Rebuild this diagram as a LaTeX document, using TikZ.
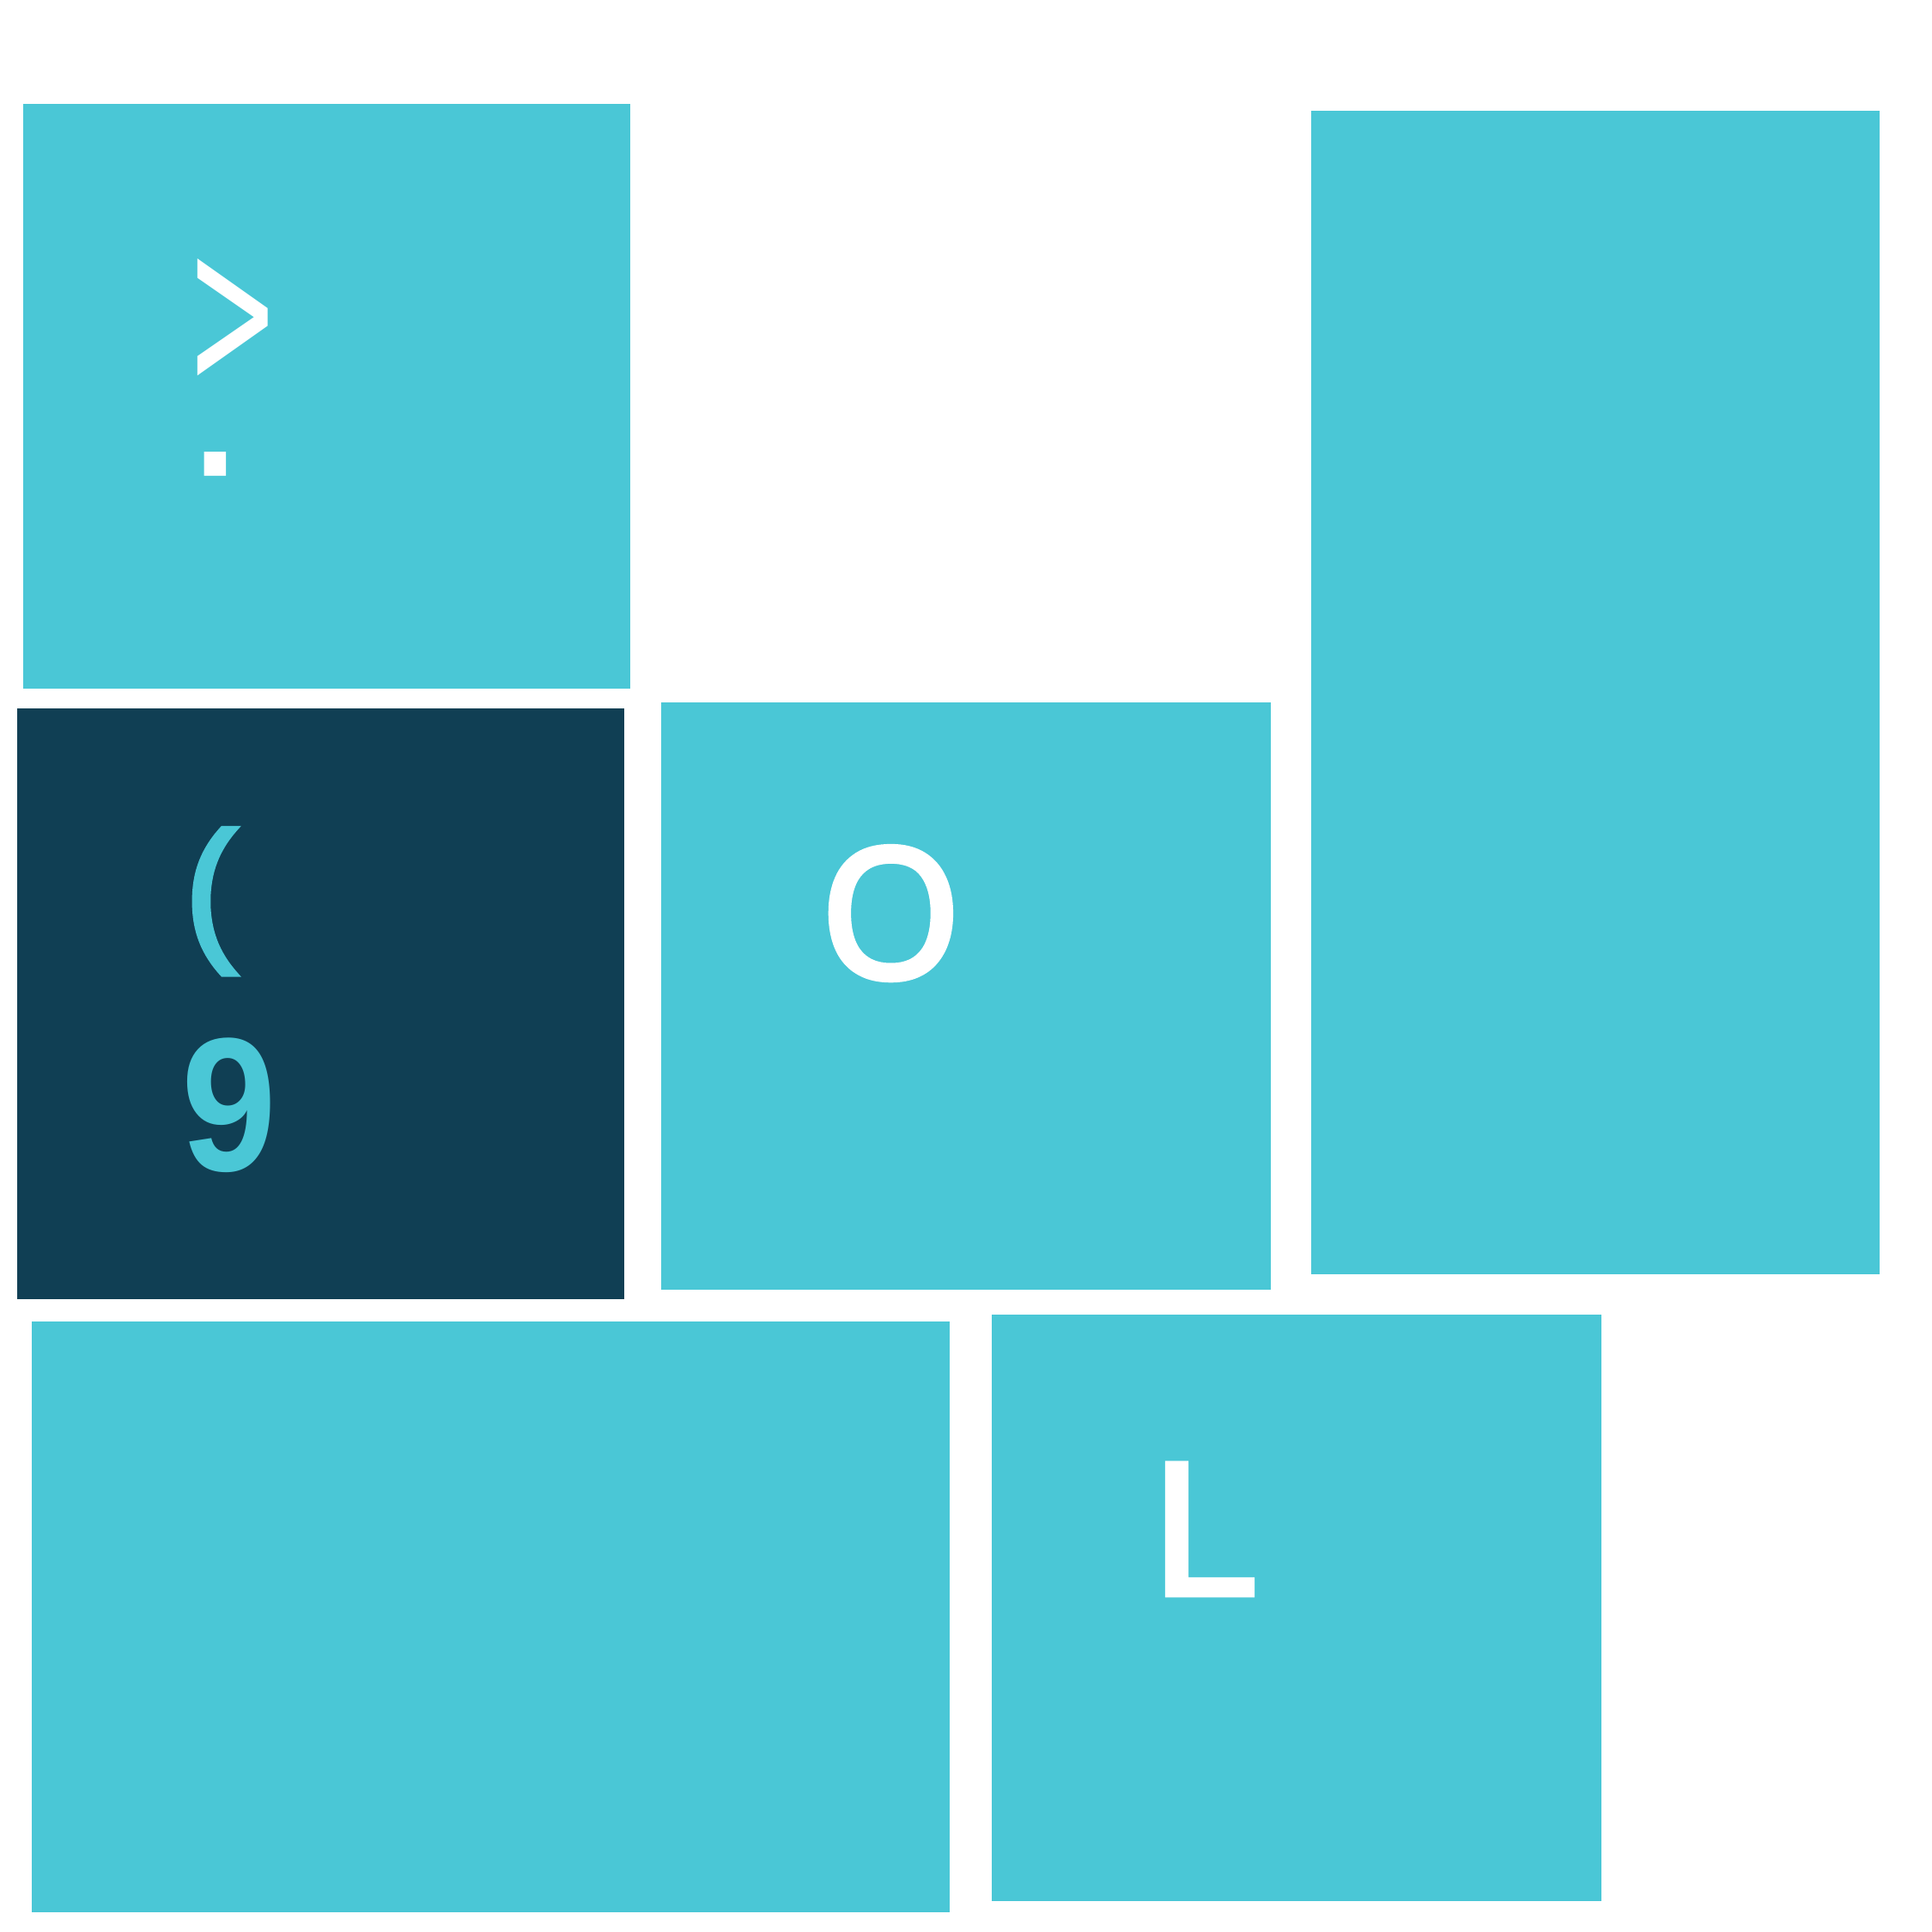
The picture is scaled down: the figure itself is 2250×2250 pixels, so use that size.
\documentclass[tikz,border=0pt]{standalone}
\usepackage{fontspec}
\setmainfont{Liberation Sans}
\newfontfamily\gf{Liberation Sans}[FakeBold=3]
\newfontfamily\nf{Noto Sans}[FakeBold=3]
\newfontfamily\df{DejaVu Sans}
\definecolor{cyanbox}{HTML}{4AC7D6}
\definecolor{navybox}{HTML}{103F54}
\begin{document}
\begin{tikzpicture}[x=0.01cm,y=-0.01cm,
  lbl/.style={inner sep=0pt, outer sep=0pt, anchor=base west, font=\gf\fontsize{63}{63}\selectfont}]
\useasboundingbox (0,0) rectangle (2250,2250);
\fill[cyanbox] (27,120.5) rectangle (734,802);
\fill[cyanbox] (1527,129) rectangle (2189,1484);
\fill[navybox] (20,825) rectangle (727,1513);
\fill[cyanbox] (770,818) rectangle (1480,1502);
\fill[cyanbox] (37,1539) rectangle (1106,2227);
\fill[cyanbox] (1155,1531) rectangle (1865,2214);
\node[lbl, text=white, font=\df\fontsize{63}{63}\selectfont] (gt) at (216,449) {\scalebox{0.59}[1.15]{>}};
\node[lbl, text=white, font=\gf\fontsize{58}{58}\selectfont] (dot) at (222,551) {.};
\node[lbl, text=cyanbox, font=\gf\fontsize{52}{52}\selectfont] (par) at (215,1097) {(};
\node[lbl, text=cyanbox, font=\bfseries\fontsize{63}{63}\selectfont] (nine) at (211,1363) {\scalebox{0.9}[1]{9}};
\node[lbl, text=white, font=\nf\fontsize{60}{60}\selectfont] (oh) at (955,1139) {O};
\node[lbl, text=white] (ell) at (1342,1857) {L};
\end{tikzpicture}
\end{document}
